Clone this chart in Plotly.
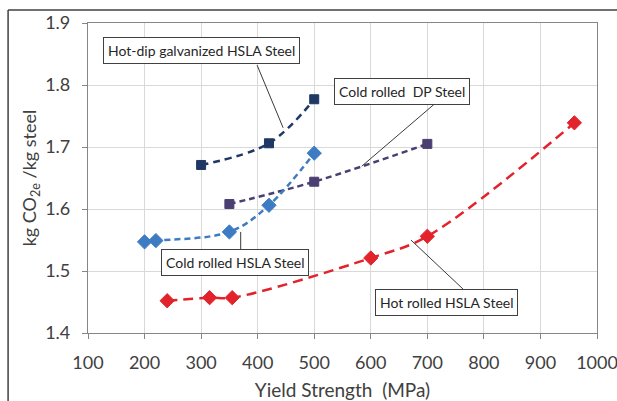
import plotly.graph_objects as go

# Data
hdg_x = [300, 420, 500]
hdg_y = [1.671, 1.706, 1.777]
dp_x = [350, 500, 700]
dp_y = [1.608, 1.644, 1.705]
crh_x = [200, 220, 350, 420, 500]
crh_y = [1.547, 1.549, 1.563, 1.606, 1.690]
hrh_x = [240, 315, 355, 600, 700, 960]
hrh_y = [1.452, 1.457, 1.457, 1.521, 1.556, 1.739]

x_ticks = [100, 200, 300, 400, 500, 600, 700, 800, 900, 1000]
y_ticks = [1.4, 1.5, 1.6, 1.7, 1.8, 1.9]

FONT = "Lato"
fig = go.Figure()

def add(x, y, color, symbol, size, dash, lw):
    fig.add_trace(go.Scatter(x=x, y=y, mode="lines+markers",
                             line=dict(color=color, width=lw, dash=dash, shape="spline", smoothing=1.0),
                             marker=dict(symbol=symbol, size=size, color=color,
                                         line=dict(color=color, width=1)),
                             showlegend=False))

add(hdg_x, hdg_y, "#1F3864", "square", 9, "7px,5px", 2.5)
add(dp_x, dp_y, "#4B3F72", "square", 9, "6px,4px", 2.5)
add(crh_x, crh_y, "#3D7CC2", "diamond", 11, "6px,4px", 2.5)
add(hrh_x, hrh_y, "#E3232B", "diamond", 11, "10px,6px", 2.5)

# Callout labels: (text, box x, box y, leader from, leader to)
labels = [
    ("Hot-dip galvanized HSLA Steel", 301, 1.8556, (399, 1.832), (445, 1.731)),
    ("Cold rolled  DP Steel", 655, 1.790, (716, 1.772), (584, 1.669)),
    ("Cold rolled HSLA Steel", 360, 1.5137, (370, 1.5355), (370, 1.563)),
    ("Hot rolled HSLA Steel", 733, 1.449, (763, 1.471), (671, 1.550)),
]
for text, bx, by, p0, p1 in labels:
    fig.add_shape(type="line", x0=p0[0], y0=p0[1], x1=p1[0], y1=p1[1],
                  line=dict(color="#3a3a3a", width=1))
    fig.add_annotation(x=bx, y=by, text=text, showarrow=False,
                       font=dict(family=FONT, size=14, color="#262626"),
                       bgcolor="white", bordercolor="#404040", borderwidth=1, borderpad=4)

# outer frame (top and left edges of the picture border)
fig.add_shape(type="line", xref="paper", yref="paper", x0=-0.157, x1=1.1, y0=1.042, y1=1.042,
              line=dict(color="#404040", width=1.5))
fig.add_shape(type="line", xref="paper", yref="paper", x0=-0.157, x1=-0.157, y0=1.042, y1=-0.4,
              line=dict(color="#404040", width=1.5))

axis_common = dict(showgrid=True, gridcolor="#D9D9D9", gridwidth=1,
                   showline=True, linecolor="#868686", linewidth=1.2, mirror=True,
                   ticks="outside", ticklen=5, tickcolor="#868686",
                   zeroline=False, automargin=False, ticklabeloverflow="allow")

fig.update_layout(
    width=617, height=401,
    margin=dict(l=88, r=20, t=23, b=68),
    paper_bgcolor="white", plot_bgcolor="white",
    xaxis=dict(range=[100, 1000], tickvals=x_ticks, ticktext=[str(v) for v in x_ticks],
               ticklabelstandoff=8, tickfont=dict(family=FONT, size=18, color="#404040"),
               title=dict(text="Yield Strength  (MPa)", font=dict(family=FONT, size=19, color="#404040"), standoff=13),
               **axis_common),
    yaxis=dict(range=[1.4, 1.9], tickvals=y_ticks, ticktext=[f"{v:.1f}" for v in y_ticks],
               ticklabelstandoff=8, tickfont=dict(family=FONT, size=18, color="#404040"),
               title=dict(text="kg CO<sub>2e</sub> /kg steel", font=dict(family=FONT, size=18, color="#404040"), standoff=3),
               **axis_common),
)

fig.write_html("out.html", config={"displayModeBar": False},
               post_script="document.body.style.margin='0';document.body.style.overflow='hidden';")
